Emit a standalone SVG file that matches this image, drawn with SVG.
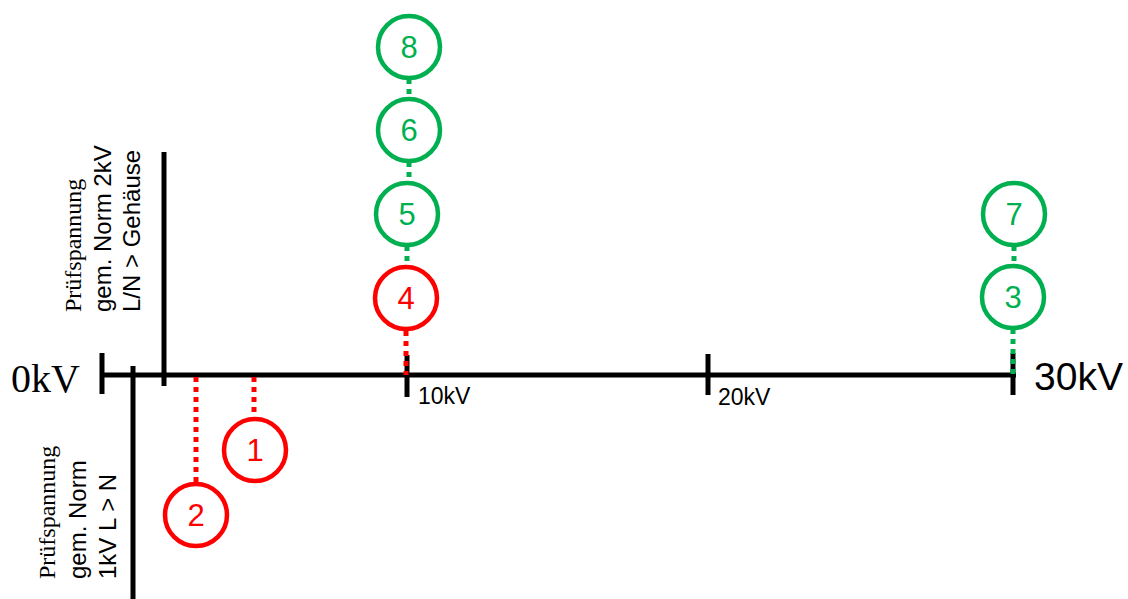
<svg xmlns="http://www.w3.org/2000/svg" width="1128" height="599" viewBox="0 0 1128 599">
<style>
.ax{stroke:#000;stroke-width:5;fill:none}
.c{fill:#fff;stroke-width:4.5}
.red{stroke:#FF0000}
.grn{stroke:#00B050}
.dr{stroke:#FF0000;stroke-width:5;stroke-dasharray:5 5;fill:none}
.dg{stroke:#00B050;stroke-width:5;stroke-dasharray:5 5;fill:none}
.n{font-family:"Liberation Sans",Arial,sans-serif;font-size:31px;text-anchor:middle}
.tr{fill:#FF0000}
.tg{fill:#00B050}
.sans{font-family:"Liberation Sans",Arial,sans-serif}
.serif{font-family:"Liberation Serif","Times New Roman",serif}
</style>
<rect width="1128" height="599" fill="#fff"/>
<g id="axis">
<line class="ax" x1="100" y1="375" x2="1016" y2="375"/>
<line class="ax" x1="102" y1="353" x2="102" y2="394"/>
<line class="ax" x1="164" y1="152" x2="164" y2="386"/>
<line class="ax" x1="133" y1="366" x2="133" y2="599"/>
<line class="ax" x1="407" y1="355" x2="407" y2="397"/>
<line class="ax" x1="708" y1="354" x2="708" y2="395"/>
<line class="ax" x1="1013" y1="353" x2="1013" y2="395"/>
<text class="serif" x="11" y="392" font-size="40">0kV</text>
<text class="sans" x="1034" y="390" font-size="39">30kV</text>
<text class="sans" x="418" y="404" font-size="23">10kV</text>
<text class="sans" x="718" y="405" font-size="23">20kV</text>
</g>
<g id="label-2kV">
<text class="serif" font-size="24" transform="translate(81,312) rotate(-90)">Prüfspannung</text>
<text class="sans" font-size="24" transform="translate(111,312) rotate(-90)">gem. Norm 2kV</text>
<text class="sans" font-size="24" transform="translate(140,312) rotate(-90)">L/N &gt; Gehäuse</text>
</g>
<g id="label-1kV">
<text class="serif" font-size="24" transform="translate(55,579) rotate(-90)">Prüfspannung</text>
<text class="sans" font-size="24" transform="translate(86,579) rotate(-90)">gem. Norm</text>
<text class="sans" font-size="24" transform="translate(116,579) rotate(-90)">1kV L &gt; N</text>
</g>
<g id="connectors">
<line class="dr" x1="406" y1="331" x2="406" y2="375"/>
<line class="dg" x1="409" y1="79" x2="409" y2="98"/>
<line class="dg" x1="409" y1="162" x2="409" y2="182"/>
<line class="dg" x1="407" y1="246" x2="407" y2="266"/>
<line class="dg" x1="1014" y1="246" x2="1014" y2="266"/>
<line class="dg" x1="1013" y1="329" x2="1013" y2="377"/>
<line class="dr" x1="254" y1="377" x2="254" y2="418"/>
<line class="dr" x1="196" y1="377" x2="196" y2="483"/>
</g>
<g id="node-8"><circle class="c grn" cx="409" cy="47" r="31"/><text class="n tg" x="409" y="58">8</text></g>
<g id="node-6"><circle class="c grn" cx="409" cy="130" r="31"/><text class="n tg" x="409" y="141">6</text></g>
<g id="node-5"><circle class="c grn" cx="407" cy="214" r="31"/><text class="n tg" x="407" y="225">5</text></g>
<g id="node-4"><circle class="c red" cx="406" cy="298" r="31"/><text class="n tr" x="406" y="309">4</text></g>
<g id="node-7"><circle class="c grn" cx="1014" cy="214" r="31"/><text class="n tg" x="1014" y="225">7</text></g>
<g id="node-3"><circle class="c grn" cx="1013" cy="297" r="31"/><text class="n tg" x="1013" y="308">3</text></g>
<g id="node-1"><circle class="c red" cx="255" cy="450" r="31"/><text class="n tr" x="255" y="461">1</text></g>
<g id="node-2"><circle class="c red" cx="196" cy="515" r="31"/><text class="n tr" x="196" y="526">2</text></g>
</svg>
